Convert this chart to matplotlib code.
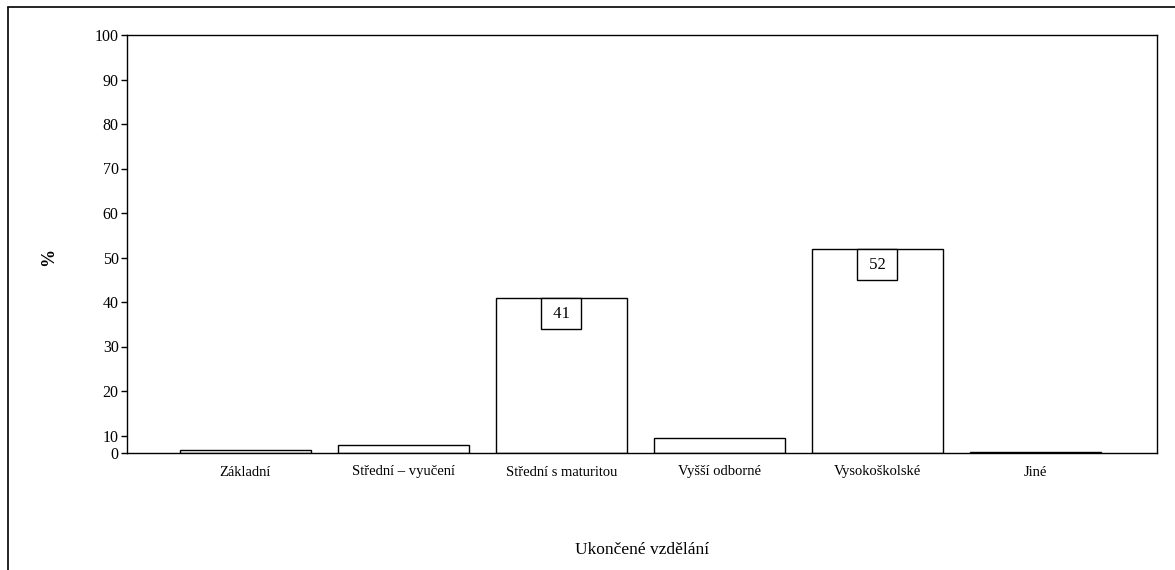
import numpy as np
import matplotlib
matplotlib.use("Agg")
import matplotlib.pyplot as plt
from matplotlib.lines import Line2D

categories = ["Základní", "Střední – vyučení", "Střední s maturitou",
              "Vyšší odborné", "Vysokoškolské", "Jiné"]
values = [0.9, 2.0, 41, 4.1, 52, 0.2]
labelled = {2: "41", 4: "52"}
yticks = list(range(0, 101, 10))

plt.rcParams['font.family'] = ['Liberation Serif', 'DejaVu Serif']

fig = plt.figure(figsize=(11.75, 5.70), dpi=100)
ax = fig.add_axes([127/1175, 1-453/570, (1157-127)/1175, (453-35)/570])

# piecewise scale mimicking the printed (scanned) axis
_v = [0, 4.5, 10, 100]
_p = [0, 17, 17.5, 418]
def fwd(v):
    return np.interp(v, _v, _p)
def inv(p):
    return np.interp(p, _p, _v)
ax.set_yscale('function', functions=(fwd, inv))

x = np.arange(len(categories))
ax.bar(x, values, width=0.83, color='white', edgecolor='black', linewidth=1.0)

for i, txt in labelled.items():
    ax.annotate(f" {txt} ", xy=(x[i], values[i]), xytext=(0, -6),
                textcoords='offset points', ha='center', va='top', fontsize=12,
                bbox=dict(boxstyle='square,pad=0.45', fc='white', ec='black', lw=1.0))

ax.set_xlim(-0.75, 5.77)
ax.set_ylim(0, 100)
ax.set_yticks(yticks)
ax.set_yticklabels([str(t) for t in yticks], fontsize=11.5)
ax.set_xticks(x)
ax.set_xticklabels(categories, fontsize=10.5)
ax.tick_params(axis='x', length=0, pad=9)
ax.tick_params(axis='y', length=4, width=1, pad=2, direction='out')
for s in ax.spines.values():
    s.set_linewidth(1.0)

ax.set_ylabel("%", fontsize=13, fontweight='bold')
ax.yaxis.set_label_coords(-0.068, 0.47)
ax.set_xlabel("Ukončené vzdělání", fontsize=12.5)
ax.xaxis.set_label_coords(0.5, -0.212)

# outer frame (left and top edges of the scanned box)
fig.add_artist(Line2D([8/1175, 8/1175], [0, 1-8/570], color='black', lw=1.2,
                      transform=fig.transFigure))
fig.add_artist(Line2D([8/1175, 1], [1-7/570, 1-7/570], color='black', lw=1.2,
                      transform=fig.transFigure))

fig.savefig("out.png", dpi=100)
